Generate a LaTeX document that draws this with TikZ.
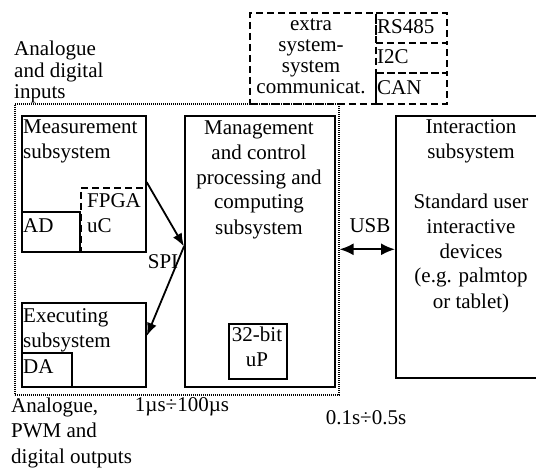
\documentclass[tikz,border=0pt]{standalone}
\usepackage{fontspec}
\setmainfont{Liberation Serif}
\usetikzlibrary{arrows.meta,positioning}

\begin{document}
\begin{tikzpicture}[x=1pt,y=-1pt,>={Latex[length=13pt,width=10pt]},
		txt/.style={font=\fontsize{21}{25}\selectfont,inner sep=0pt},
		block/.style={draw,line width=1.8pt,anchor=north west,inner sep=0pt},
		dashblock/.style={block,line width=1.6pt,dash pattern=on 7pt off 4pt}]
		\clip (0,0) rectangle (536,468);

		% draw the dotted frame round the fast part
		\node[block,line width=1.6pt,dash pattern=on 0.9pt off 1.1pt,minimum width=324pt,minimum height=291pt] (frame) at (14,103) {};

		% draw the subsystems
		\node[block,minimum width=124pt,minimum height=136pt] (meas) at (21,115) {};
		\node[block,minimum width=58pt,minimum height=40pt] (ad) at (21,211) {};
		\node[dashblock,minimum width=65pt,minimum height=64pt] (fpga) at (80,187) {};
		\node[block,minimum width=124pt,minimum height=84pt] (exec) at (21,302) {};
		\node[block,minimum width=50pt,minimum height=34pt] (da) at (21,352) {};
		\node[block,minimum width=150pt,minimum height=271pt] (mgmt) at (184,115) {};
		\node[block,minimum width=58pt,minimum height=55pt] (cpu) at (228,323) {};
		\node[block,minimum width=152pt,minimum height=262pt] (inter) at (395,115) {};

		% draw the extra communication boxes
		\node[dashblock,minimum width=126pt,minimum height=91pt] (extra) at (249,12) {};
		\node[dashblock,minimum width=71pt,minimum height=30pt] (rs) at (375,12) {};
		\node[dashblock,minimum width=71pt,minimum height=30pt] (itc) at (375,42) {};
		\node[dashblock,minimum width=71pt,minimum height=31pt] (can) at (375,72) {};

		% texts in the boxes (base is the last line)
		\node[txt,anchor=base west,align=left] (meastext) at (23,159) {Measurement\\subsystem};
		\node[txt,anchor=base west] (adtext) at (23,233) {AD};
		\node[txt,anchor=base west,align=left] (fpgatext) at (87,233) {FPGA\\uC};
		\node[txt,anchor=base west,align=left] (exectext) at (23,347) {Executing\\subsystem};
		\node[txt,anchor=base west] (datext) at (23,373) {DA};
		\node[txt,anchor=base,align=center] (mgmttext) at (259,234) {Management\\and control\\processing and\\computing\\subsystem};
		\node[txt,anchor=base,align=center] (cputext) at (257,366) {32-bit\\uP};
		\node[txt,anchor=base,align=center] (intertext) at (471,308) {Interaction\\subsystem\\[25pt]Standard user\\interactive\\devices\\(e.g. palmtop\\or tablet)};
		\node[txt,font=\fontsize{21}{21}\selectfont,anchor=base,align=center] (extratext) at (311,94) {extra\\system-\\system\\communicat.};
		\node[txt,anchor=base west] (rstext) at (377,34) {RS485};
		\node[txt,anchor=base west] (itctext) at (377,64) {I2C};
		\node[txt,anchor=base west] (cantext) at (377,95) {CAN};

		% outer labels
		\node[txt,font=\fontsize{21}{21.5}\selectfont,anchor=base west,align=left] (inputs) at (14,99) {Analogue\\and digital\\inputs};
		\node[txt,font=\fontsize{21}{25.5}\selectfont,anchor=base west,align=left] (outputs) at (11,463) {Analogue,\\PWM and\\digital outputs};
		\node[txt,anchor=base] (fast) at (182,411) {1µs÷100µs};
		\node[txt,anchor=base] (slow) at (366,424) {0.1s÷0.5s};

		% the SPI links
		\coordinate (spi) at ([yshift=5pt]mgmt.west);
		\draw[->,line width=1.8pt] ([yshift=5pt]fpga.north east) -- (spi);
		\draw[->,line width=1.8pt] (spi) -- ([yshift=9pt]exec.east);
		\node[txt,anchor=base] (spitext) at (163,268) {SPI};

		% the USB link
		\draw[<->,line width=1.8pt,>={Latex[length=14pt,width=12pt]}] (frame.east) -- (frame.east -| inter.west);
		\node[txt,anchor=base] (usbtext) at (370,233) {USB};
	\end{tikzpicture}
\end{document}
